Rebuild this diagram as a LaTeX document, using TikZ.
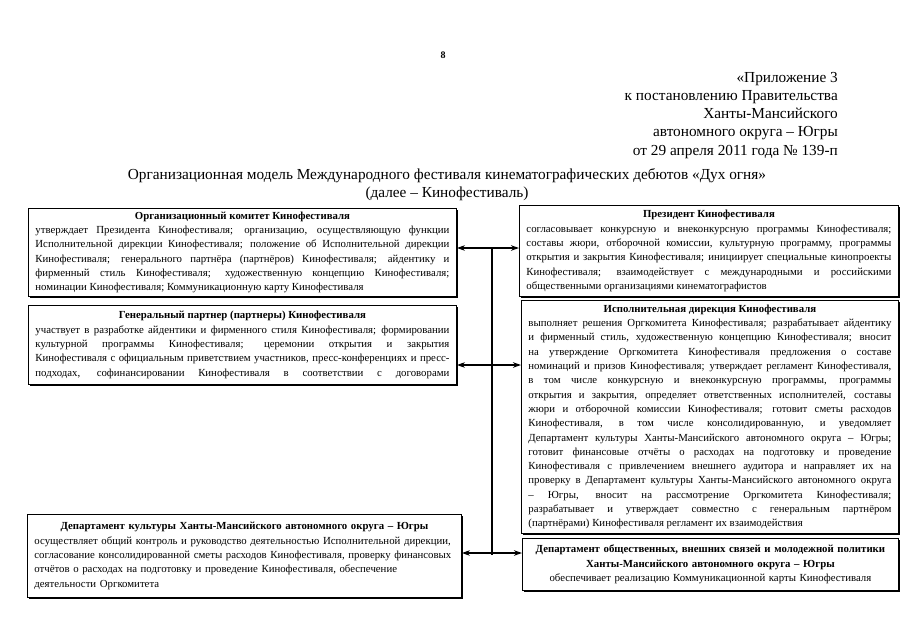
\documentclass[tikz,border=0pt]{standalone}
\usepackage{fontspec}
\setmainfont{Liberation Serif}
\usetikzlibrary{arrows.meta,shadows}
\newcommand{\boxtitle}[1]{{\centering\bfseries #1\par}}
\begin{document}
\begin{tikzpicture}[x=1pt,y=-1pt,
  box/.style={draw, line width=0.9pt, fill=white, anchor=north west,
    inner xsep=7pt, inner ysep=2pt,
    drop shadow={shadow xshift=1.1pt, shadow yshift=-1.1pt, fill=black, opacity=1},
    font={\fontsize{10.8}{14.3}\selectfont\parindent=0pt}},
  bodyj/.style={align=justify},
  arr/.style={line width=1.7pt, -{Stealth[length=8pt,width=5.5pt]}},
  bus/.style={line width=2pt},
  head/.style={font={\fontsize{15.3}{18.2}\selectfont}, inner sep=0pt}
]
\useasboundingbox (0,0) rectangle (905,640);

% page number
\node[font={\fontsize{10}{12}\selectfont\bfseries}, inner sep=0pt] (pnum) at (443,55) {8};

% header
\node[head, anchor=north east, align=right] (appx) at (838,72)
  {«Приложение 3\\к постановлению Правительства\\Ханты-Мансийского\\автономного округа – Югры\\от 29 апреля 2011 года № 139-п};

\node[head, anchor=north, align=center] (title) at (447,168)
  {Организационная модель Международного фестиваля кинематографических дебютов «Дух огня»\\(далее – Кинофестиваль)};

% left column
\node[box, bodyj, text width=414pt, minimum height=88pt] (orgcom) at (28,208)
  {\boxtitle{Организационный комитет Кинофестиваля}
   утверждает Президента Кинофестиваля; организацию, осуществляющую функции\linebreak
   Исполнительной дирекции Кинофестиваля; положение об Исполнительной дирекции\linebreak
   Кинофестиваля; генерального партнёра (партнёров) Кинофестиваля; айдентику и\linebreak
   фирменный стиль Кинофестиваля; художественную концепцию Кинофестиваля;\linebreak
   номинации Кинофестиваля; Коммуникационную карту Кинофестиваля};

\node[box, bodyj, text width=414pt, minimum height=79pt] (genpart) at (28,305)
  {\boxtitle{Генеральный партнер (партнеры) Кинофестиваля}
   участвует в разработке айдентики и фирменного стиля Кинофестиваля; формировании\linebreak
   культурной программы Кинофестиваля; церемонии открытия и закрытия\linebreak
   Кинофестиваля с официальным приветствием участников, пресс-конференциях и пресс-\linebreak
   \makebox[\linewidth][s]{подходах, софинансировании Кинофестиваля в соответствии с договорами}};

\node[box, align=left, text width=420pt, minimum height=83pt] (deptcult) at (27,514)
  {\boxtitle{Департамент культуры Ханты-Мансийского автономного округа – Югры}
   осуществляет общий контроль и руководство деятельностью Исполнительной дирекции,\\
   согласование консолидированной сметы расходов Кинофестиваля, проверку финансовых\\
   отчётов о расходах на подготовку и проведение Кинофестиваля, обеспечение\\
   деятельности Оргкомитета};

% right column
\node[box, bodyj, text width=365pt, minimum height=91pt] (president) at (519,205)
  {\boxtitle{Президент Кинофестиваля}
   согласовывает конкурсную и внеконкурсную программы Кинофестиваля;\linebreak
   составы жюри, отборочной комиссии, культурную программу, программы\linebreak
   открытия и закрытия Кинофестиваля; инициирует специальные кинопроекты\linebreak
   Кинофестиваля; взаимодействует с международными и российскими\linebreak
   общественными организациями кинематографистов};

\node[box, bodyj, text width=363pt, minimum height=233pt] (execdir) at (521,300)
  {\boxtitle{Исполнительная дирекция Кинофестиваля}
   выполняет решения Оргкомитета Кинофестиваля; разрабатывает айдентику\linebreak
   и фирменный стиль, художественную концепцию Кинофестиваля; вносит\linebreak
   на утверждение Оргкомитета Кинофестиваля предложения о составе\linebreak
   номинаций и призов Кинофестиваля; утверждает регламент Кинофестиваля,\linebreak
   в том числе конкурсную и внеконкурсную программы, программы\linebreak
   открытия и закрытия, определяет ответственных исполнителей, составы\linebreak
   жюри и отборочной комиссии Кинофестиваля; готовит сметы расходов\linebreak
   Кинофестиваля, в том числе консолидированную, и уведомляет\linebreak
   Департамент культуры Ханты-Мансийского автономного округа – Югры;\linebreak
   готовит финансовые отчёты о расходах на подготовку и проведение\linebreak
   Кинофестиваля с привлечением внешнего аудитора и направляет их на\linebreak
   проверку в Департамент культуры Ханты-Мансийского автономного округа\linebreak
   – Югры, вносит на рассмотрение Оргкомитета Кинофестиваля;\linebreak
   разрабатывает и утверждает совместно с генеральным партнёром\linebreak
   (партнёрами) Кинофестиваля регламент их взаимодействия};

\node[box, align=center, text width=362pt, minimum height=52pt] (deptpub) at (522,538)
  {\textbf{Департамент общественных, внешних связей и молодежной политики}\\
   \textbf{Ханты-Мансийского автономного округа – Югры}\\
   обеспечивает реализацию Коммуникационной карты Кинофестиваля};

% bus and connectors
\coordinate (j1) at (492,248);
\coordinate (j2) at (492,365);
\coordinate (j3) at (492,553);
\coordinate (jend) at (492,555);
\draw[bus] (j1) -- (jend);
\draw[arr] (j1) -- (orgcom.east |- j1);
\draw[arr] (j1) -- (president.west |- j1);
\draw[arr] (j2) -- (genpart.east |- j2);
\draw[arr] (j2) -- (execdir.west |- j2);
\draw[arr] (j3) -- (deptcult.east |- j3);
\draw[arr] (j3) -- (deptpub.west |- j3);
\end{tikzpicture}
\end{document}
